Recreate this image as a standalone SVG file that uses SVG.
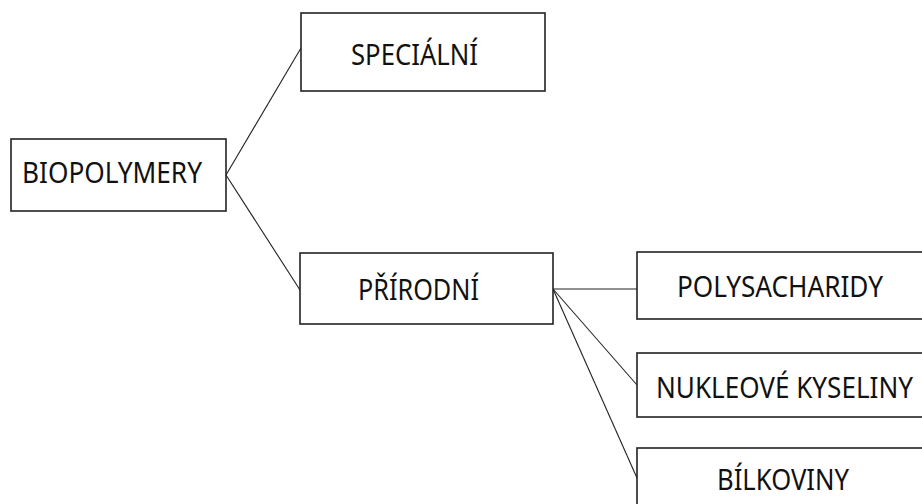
<svg xmlns="http://www.w3.org/2000/svg" width="922" height="504" viewBox="0 0 922 504">
<style>
.box{fill:#fff;stroke:#222;stroke-width:1.6}
.lbl{font-family:"Noto Sans","Open Sans",sans-serif;font-size:29px;fill:#111}
.con{stroke:#222;stroke-width:1.1;fill:none}
</style>
<rect width="922" height="504" fill="#fff"/>
<g id="connectors">
<line class="con" x1="226" y1="175" x2="301" y2="48"/>
<line class="con" x1="226" y1="175" x2="300" y2="290"/>
<line class="con" x1="553" y1="289" x2="637" y2="289"/>
<line class="con" x1="553" y1="289" x2="637" y2="385"/>
<line class="con" x1="553" y1="289" x2="637" y2="478"/>
</g>
<g id="biopolymery">
<rect class="box" x="11" y="139" width="215" height="72"/>
<text class="lbl" x="22" y="183" textLength="180" lengthAdjust="spacingAndGlyphs">BIOPOLYMERY</text>
</g>
<g id="specialni">
<rect class="box" x="301" y="13" width="244" height="78"/>
<text class="lbl" x="351" y="65" textLength="127" lengthAdjust="spacingAndGlyphs">SPECIÁLNÍ</text>
</g>
<g id="prirodni">
<rect class="box" x="300" y="253" width="253" height="71"/>
<text class="lbl" x="358" y="300" textLength="121" lengthAdjust="spacingAndGlyphs">PŘÍRODNÍ</text>
</g>
<g id="polysacharidy">
<rect class="box" x="637" y="252" width="300" height="67"/>
<text class="lbl" x="677" y="297" textLength="206" lengthAdjust="spacingAndGlyphs">POLYSACHARIDY</text>
</g>
<g id="nukleove">
<rect class="box" x="637" y="353" width="300" height="64"/>
<text class="lbl" x="656" y="398" textLength="257" lengthAdjust="spacingAndGlyphs">NUKLEOVÉ KYSELINY</text>
</g>
<g id="bilkoviny">
<rect class="box" x="637" y="448" width="300" height="70"/>
<text class="lbl" x="717" y="490" textLength="132" lengthAdjust="spacingAndGlyphs">BÍLKOVINY</text>
</g>
</svg>
